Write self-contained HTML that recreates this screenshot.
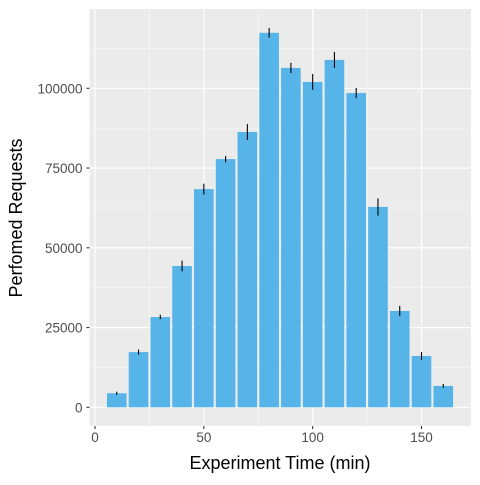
<!DOCTYPE html>
<html><head><meta charset="utf-8"><style>
body{margin:0;background:#fff}
svg text{font-family:"Liberation Sans",sans-serif}
</style></head><body>
<svg id="chart" width="480" height="480" xmlns="http://www.w3.org/2000/svg"></svg>
<script>
const times=[10,20,30,40,50,60,70,80,90,100,110,120,130,140,150,160];
const requests=[4400,17300,28300,44300,68400,77800,86300,117400,106400,102000,108900,98500,62800,30200,16100,6700];
const errors=[500,800,700,1700,1700,1000,2500,1500,1600,2500,2500,1600,2700,1600,1200,600];
const xTicks=[0,50,100,150];
const yTicks=[0,25000,50000,75000,100000];
const NS="http://www.w3.org/2000/svg";
const svg=document.getElementById('chart');
const L=89.5,R=471,T=9,B=426;
const x=t=>95+(t)*(421.5-95)/150;
const y=v=>407.3-v*(407.3-88.3)/100000;
function mk(tag,a,parent){const e=document.createElementNS(NS,tag);for(const k in a)e.setAttribute(k,a[k]);(parent||svg).appendChild(e);return e;}
const panel=mk('rect',{x:L,y:T,width:R-L,height:B-T,fill:'#ebebeb'});


for(let i=0;i<xTicks.length;i++){const m=xTicks[i]+25;if(x(m)<R){const g=mk('line',{x1:x(m),x2:x(m),y1:T,y2:B,stroke:'#f7f7f7','stroke-width':0.6});}}
for(let i=0;i<yTicks.length;i++){const m=yTicks[i]+12500;const g=mk('line',{x1:L,x2:R,y1:y(m),y2:y(m),stroke:'#f7f7f7','stroke-width':0.6});}
xTicks.forEach(t=>{
 const g=mk('line',{x1:x(t),x2:x(t),y1:T,y2:B,stroke:'#fff','stroke-width':1.1});
 
 const tk=mk('line',{x1:x(t),x2:x(t),y1:B,y2:B+3,stroke:'#333','stroke-width':1.1});
 
 const lb=mk('text',{x:x(t),y:B+16,'text-anchor':'middle','font-size':13.5,fill:'#4d4d4d'});lb.textContent=t;
 
});
yTicks.forEach(v=>{
 const g=mk('line',{x1:L,x2:R,y1:y(v),y2:y(v),stroke:'#fff','stroke-width':1.1});
 
 const tk=mk('line',{x1:L-3,x2:L,y1:y(v),y2:y(v),stroke:'#333','stroke-width':1.1});
 
 const lb=mk('text',{x:L-7,y:y(v)+5,'text-anchor':'end','font-size':13.5,fill:'#4d4d4d'});lb.textContent=v;
 
});
times.forEach((t,i)=>{
 const w=x(4.5)-x(-4.5);
 const b=mk('rect',{x:x(t-4.5),y:y(requests[i]),width:w,height:y(0)-y(requests[i]),fill:'#56b4e9'});
 
 const e=mk('line',{x1:x(t),x2:x(t),y1:y(requests[i]-errors[i]),y2:y(requests[i]+errors[i]),stroke:'#000','stroke-width':1.1});
 
});
const xt=mk('text',{x:280,y:469,'text-anchor':'middle','font-size':18,fill:'#000'});xt.textContent='Experiment Time (min)';

const yt=mk('text',{x:0,y:0,'text-anchor':'middle','font-size':18,fill:'#000',transform:'translate(22,218) rotate(-90)'});yt.textContent='Perfomed Requests';

</script>
</body></html>
